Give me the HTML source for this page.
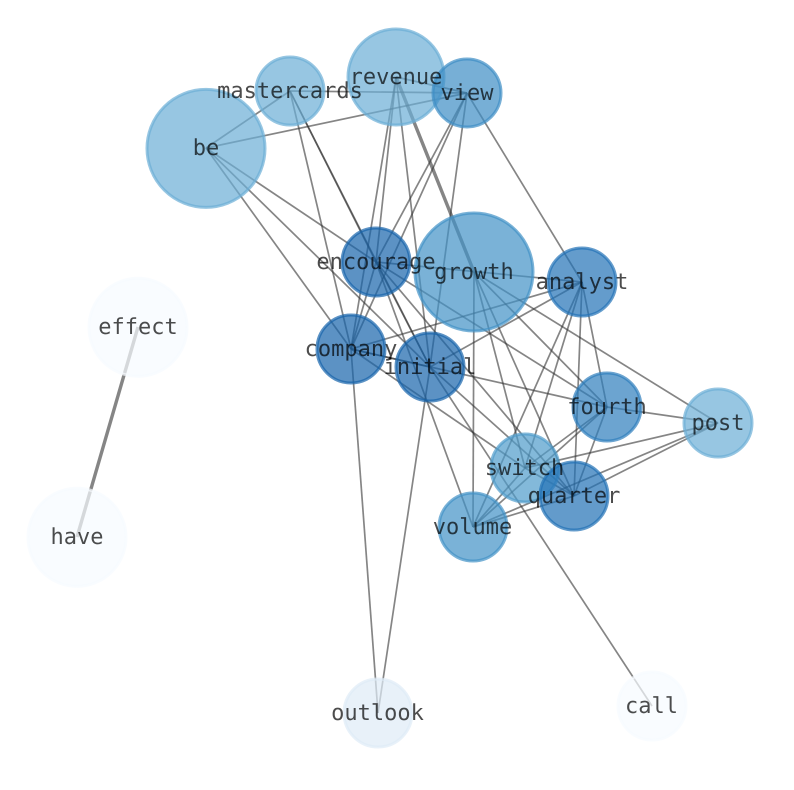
<!DOCTYPE html>
<html>
<head>
<meta charset="utf-8">
<style>
html,body{margin:0;padding:0;background:#fff;width:794px;height:790px;overflow:hidden}
svg{display:block}
text{font-family:"DejaVu Sans Mono","Liberation Mono",monospace;font-size:22px;text-anchor:middle;fill:#000;fill-opacity:.7;text-rendering:geometricPrecision}
line{stroke:#333;stroke-opacity:.6;stroke-width:1.7}
line.t{stroke-width:3.4}
circle{stroke-width:3;fill-opacity:.7;stroke-opacity:.7}
</style>
</head>
<body>
<svg width="794" height="790" viewBox="0 0 794 790" xmlns="http://www.w3.org/2000/svg">
<g>
<!-- be -->
<line x1="206" y1="148" x2="290" y2="91"/>
<line x1="206" y1="148" x2="467" y2="93"/>
<line x1="206" y1="148" x2="376" y2="262"/>
<line x1="206" y1="148" x2="351" y2="349"/>
<line x1="206" y1="148" x2="430" y2="367"/>
<!-- mastercards -->
<line x1="290" y1="91" x2="467" y2="93"/>
<line x1="290" y1="91" x2="376" y2="262"/>
<line x1="290" y1="91" x2="430" y2="367"/>
<line x1="290" y1="91" x2="351" y2="349"/>
<!-- revenue -->
<line x1="396" y1="77" x2="467" y2="93"/>
<line x1="396" y1="77" x2="376" y2="262"/>
<line x1="396" y1="77" x2="351" y2="349"/>
<line x1="396" y1="77" x2="430" y2="367"/>
<line class="t" x1="396" y1="77" x2="474" y2="272"/>
<!-- view -->
<line x1="467" y1="93" x2="376" y2="262"/>
<line x1="467" y1="93" x2="351" y2="349"/>
<line x1="467" y1="93" x2="430" y2="367"/>
<line x1="467" y1="93" x2="582" y2="282"/>
<!-- encourage -->
<line x1="376" y1="262" x2="582" y2="282"/>
<line x1="376" y1="262" x2="351" y2="349"/>
<line x1="376" y1="262" x2="430" y2="367"/>
<line x1="376" y1="262" x2="607" y2="407"/>
<line x1="376" y1="262" x2="574" y2="496"/>
<line x1="376" y1="262" x2="473" y2="527"/>
<!-- growth -->
<line x1="474" y1="272" x2="718" y2="423"/>
<line x1="474" y1="272" x2="607" y2="407"/>
<line x1="474" y1="272" x2="525" y2="468"/>
<line x1="474" y1="272" x2="574" y2="496"/>
<line x1="474" y1="272" x2="473" y2="527"/>
<!-- analyst -->
<line x1="582" y1="282" x2="351" y2="349"/>
<line x1="582" y1="282" x2="430" y2="367"/>
<line x1="582" y1="282" x2="525" y2="468"/>
<line x1="582" y1="282" x2="473" y2="527"/>
<line x1="582" y1="282" x2="574" y2="496"/>
<line x1="582" y1="282" x2="607" y2="407"/>
<!-- company -->
<line x1="351" y1="349" x2="430" y2="367"/>
<line x1="351" y1="349" x2="607" y2="407"/>
<line x1="351" y1="349" x2="525" y2="468"/>
<line x1="351" y1="349" x2="378" y2="713"/>
<!-- initial -->
<line x1="430" y1="367" x2="574" y2="496"/>
<line x1="430" y1="367" x2="378" y2="713"/>
<line x1="430" y1="367" x2="652" y2="706"/>
<!-- fourth -->
<line x1="607" y1="407" x2="718" y2="423"/>
<line x1="607" y1="407" x2="525" y2="468"/>
<line x1="607" y1="407" x2="574" y2="496"/>
<line x1="607" y1="407" x2="473" y2="527"/>
<!-- post -->
<line x1="718" y1="423" x2="525" y2="468"/>
<line x1="718" y1="423" x2="574" y2="496"/>
<line x1="718" y1="423" x2="473" y2="527"/>
<!-- switch / quarter -->
<line x1="525" y1="468" x2="574" y2="496"/>
<line x1="525" y1="468" x2="473" y2="527"/>
<line x1="574" y1="496" x2="473" y2="527"/>
<!-- effect-have -->
<line class="t" x1="138" y1="327" x2="77" y2="537"/>
</g>
<g>
<circle cx="206" cy="148.4" r="59" fill="#6baed6" stroke="#6baed6"/>
<circle cx="290" cy="91" r="34" fill="#6baed6" stroke="#6baed6"/>
<circle cx="396" cy="77" r="48" fill="#6baed6" stroke="#6baed6"/>
<circle cx="467" cy="93" r="34" fill="#3d8dc4" stroke="#3d8dc4"/>
<circle cx="376" cy="262" r="34" fill="#1764ab" stroke="#1764ab"/>
<circle cx="474" cy="272" r="59" fill="#4292c6" stroke="#4292c6"/>
<circle cx="582" cy="282" r="34" fill="#2272b6" stroke="#2272b6"/>
<circle cx="351" cy="349" r="34" fill="#1764ab" stroke="#1764ab"/>
<circle cx="430" cy="367" r="34" fill="#1764ab" stroke="#1764ab"/>
<circle cx="138" cy="327.3" r="49" fill="#f7fbff" stroke="#f7fbff"/>
<circle cx="77" cy="537.3" r="49" fill="#f7fbff" stroke="#f7fbff"/>
<circle cx="607" cy="407" r="34" fill="#2e7ebc" stroke="#2e7ebc"/>
<circle cx="718" cy="423" r="34" fill="#6baed6" stroke="#6baed6"/>
<circle cx="525" cy="468" r="34" fill="#4f9bcb" stroke="#4f9bcb"/>
<circle cx="574" cy="496" r="34" fill="#2171b5" stroke="#2171b5"/>
<circle cx="473" cy="527" r="34" fill="#4292c6" stroke="#4292c6"/>
<circle cx="378" cy="713" r="34" fill="#deebf7" stroke="#deebf7"/>
<circle cx="652" cy="706" r="34" fill="#f7fbff" stroke="#f7fbff"/>
</g>
<g>
<text x="206" y="155">be</text>
<text x="290" y="98">mastercards</text>
<text x="396" y="84">revenue</text>
<text x="467" y="100">view</text>
<text x="376" y="269">encourage</text>
<text x="474" y="279">growth</text>
<text x="582" y="289">analyst</text>
<text x="351" y="356">company</text>
<text x="430" y="374">initial</text>
<text x="138" y="334">effect</text>
<text x="77" y="544">have</text>
<text x="607" y="414">fourth</text>
<text x="718" y="430">post</text>
<text x="524.5" y="475">switch</text>
<text x="574" y="503">quarter</text>
<text x="472.5" y="534">volume</text>
<text x="377.5" y="720">outlook</text>
<text x="651.5" y="713">call</text>
</g>
</svg>
</body>
</html>
